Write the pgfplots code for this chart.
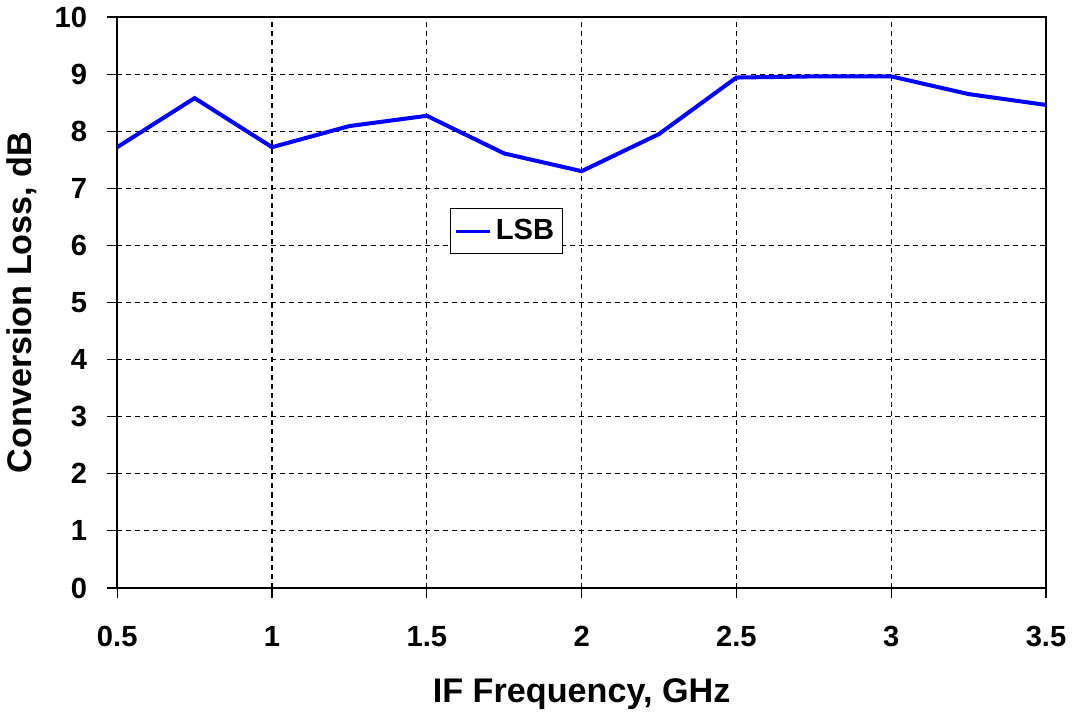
\documentclass[border=0pt]{standalone}
\usepackage{pgfplots}
\pgfplotsset{compat=1.18}
\usepackage{fontspec}
\setmainfont{Liberation Sans}

\begin{document}
\begin{tikzpicture}
  \begin{axis}[
    width=462pt, height=284pt,
    scale only axis,
    xmin=0.5, xmax=3.5,
    ymin=0, ymax=10,
    xtick={0.5,1,1.5,2,2.5,3,3.5},
    ytick={0,1,...,10},
    xticklabels={0.5,1,1.5,2,2.5,3,3.5},
    /pgf/number format/assume math mode=true,
    tick align=outside,
    xtick pos=bottom, ytick pos=left,
    major tick length=5pt,
    tick style={black, line width=0.6pt},
    axis line style={black, line width=1pt},
    grid=major,
    major grid style={black, line width=0.6pt, dash pattern=on 2.5pt off 2pt},
    ticklabel style={font=\fontsize{14.5}{16}\selectfont\bfseries},
    xticklabel style={yshift=-10.5pt},
    yticklabel style={xshift=-6.5pt},
    xlabel={IF Frequency, GHz},
    ylabel={Conversion Loss, dB},
    label style={font=\fontsize{17}{19}\selectfont\bfseries},
    xlabel style={yshift=-9pt},
    ylabel style={yshift=2pt},
    legend style={at={(0.419,0.625)}, anchor=center, draw=black, line width=0.6pt,
      font=\fontsize{14.5}{16}\selectfont\bfseries, inner xsep=2pt, inner ysep=3.5pt},
    legend image post style={line width=1.5pt},
    legend cell align=left,
  ]
  \addplot[blue, line width=2pt] coordinates {
    (0.5,7.72) (0.75,8.58) (1.0,7.72) (1.25,8.09) (1.5,8.27)
    (1.75,7.61) (2.0,7.30) (2.25,7.95) (2.5,8.94) (2.75,8.96)
    (3.0,8.96) (3.25,8.65) (3.5,8.46)
  };
  \addlegendentry{LSB}
  \end{axis}
\end{tikzpicture}
\end{document}
